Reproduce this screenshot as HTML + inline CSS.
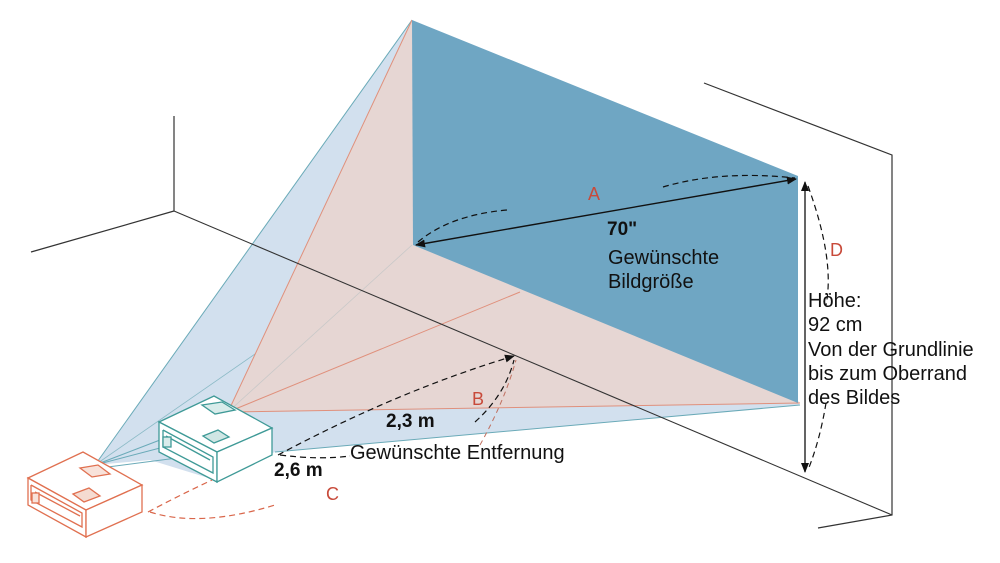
<!DOCTYPE html>
<html><head><meta charset="utf-8"><style>
html,body{margin:0;padding:0;background:#fff;}
svg{display:block;}
text{font-family:"Liberation Sans","DejaVu Sans",sans-serif;}
</style></head><body>
<svg width="1000" height="563" viewBox="0 0 1000 563" xmlns="http://www.w3.org/2000/svg">
<g stroke="#333" stroke-width="1.2" fill="none">
<line x1="174" y1="116" x2="174" y2="211"/>
<line x1="174" y1="211" x2="31" y2="252"/>
<polyline points="704,83 892,155 892,515 818,528"/>
</g>
<polygon points="95,465 412,20 800,405 275,452 215,480 150,460" fill="#d2e0ee" stroke="none"/>
<line x1="95" y1="465" x2="412" y2="20" stroke="#6aaab8" stroke-width="1"/>
<line x1="275" y1="452" x2="800" y2="405" stroke="#6aaab8" stroke-width="1"/>
<line x1="95" y1="465" x2="412" y2="245" stroke="#8bbac6" stroke-width="0.8"/>
<polygon points="228,412 412,20 800,403" fill="#e6d6d3"/>
<line x1="228" y1="412" x2="412" y2="20" stroke="#e0907c" stroke-width="1"/>
<line x1="228" y1="412" x2="800" y2="403" stroke="#e0907c" stroke-width="1"/>
<line x1="228" y1="412" x2="520" y2="292" stroke="#e0907c" stroke-width="1"/>
<line x1="228" y1="412" x2="412" y2="245" stroke="#c8c8c8" stroke-width="0.8"/>
<polygon points="412,20 798,176 798,403 413,245" fill="#6fa6c3"/>
<line x1="174" y1="211" x2="892" y2="515" stroke="#333" stroke-width="1.1"/>
<g stroke="#6aaab8" stroke-width="1">
<line x1="95" y1="465" x2="160" y2="440"/>
<line x1="95" y1="465" x2="160" y2="448"/>
<line x1="100" y1="468" x2="200" y2="455"/>
</g>
<g stroke="#3f9a97" stroke-width="1.3" fill="#fff">
<polygon points="159,422 214,396 272,428 217,452"/>
<polygon points="159,422 217,452 217,482 159,452"/>
<polygon points="217,452 272,428 272,455 217,482"/>
<polygon points="202,405 222,402 235,410 215,414" fill="#d9eceb"/>
<polygon points="203,436 218,430 229,437 214,443" fill="#cfe6e4"/>
<polyline points="163,430 213,457 213,473 163,447 163,430" fill="none"/>
<polyline points="166,436 210,460" fill="none"/>
<rect x="163" y="437" width="8" height="10" fill="#d9eceb"/>
</g>
<g stroke="#e07050" stroke-width="1.3" fill="#fff">
<polygon points="28,478 83,452 142,485 86,510"/>
<polygon points="28,478 86,510 86,537 28,505"/>
<polygon points="86,510 142,485 142,512 86,537"/>
<polygon points="80,468 98,465 110,474 92,477" fill="#f8e2da"/>
<polygon points="73,494 89,488 100,496 84,502" fill="#f5dbd1"/>
<polyline points="31,485 82,513 82,527 31,500 31,485" fill="none"/>
<line x1="35" y1="492" x2="80" y2="516"/>
<rect x="32" y="493" width="7" height="10" fill="#f8e2da"/>
</g>
<g stroke="#d9664a" stroke-width="1.2" fill="none" stroke-dasharray="6,4">
<path d="M148,512 Q180,495 212,480"/>
<path d="M150,512 Q200,528 275,505"/>
</g>
<defs>
<marker id="ah" markerWidth="10" markerHeight="8" refX="9" refY="4" orient="auto" markerUnits="userSpaceOnUse"><path d="M0,0 L10,4 L0,8 Z" fill="#111"/></marker>
<marker id="ahs" markerWidth="10" markerHeight="8" refX="1" refY="4" orient="auto" markerUnits="userSpaceOnUse"><path d="M10,0 L0,4 L10,8 Z" fill="#111"/></marker>
</defs>
<line x1="416" y1="245" x2="796" y2="179" stroke="#111" stroke-width="1.4" marker-start="url(#ahs)" marker-end="url(#ah)"/>
<line x1="805" y1="182" x2="805" y2="472" stroke="#111" stroke-width="1.3" marker-start="url(#ahs)" marker-end="url(#ah)"/>
<g stroke="#111" stroke-width="1.2" fill="none" stroke-dasharray="6,4">
<path d="M418,242 Q450,215 507,210"/>
<path d="M663,187 Q720,170 795,178"/>
<path d="M808,186 Q835,260 826,305"/>
<path d="M826,403 Q820,440 808,470"/>
<path d="M278,455 Q400,390 514,356" marker-end="url(#ah)"/>
<path d="M475,422 Q505,395 514,360"/>
<path d="M280,455 Q320,460 350,456"/>
</g>
<path d="M480,445 Q505,400 516,360" stroke="#c07060" stroke-width="1" fill="none" stroke-dasharray="5,4"/>
<g font-size="18" fill="#c84a3a">
<text x="588" y="200">A</text>
<text x="830" y="256">D</text>
<text x="472" y="405">B</text>
<text x="326" y="500">C</text>
</g>
<g fill="#111" font-size="20">
<text x="607" y="235" font-weight="bold" font-size="19">70"</text>
<text x="608" y="264">Gewünschte</text>
<text x="608" y="288">Bildgröße</text>
<text x="808" y="307">Höhe:</text>
<text x="808" y="331">92 cm</text>
<text x="808" y="356">Von der Grundlinie</text>
<text x="808" y="380">bis zum Oberrand</text>
<text x="808" y="404">des Bildes</text>
<text x="386" y="427" font-weight="bold" font-size="19">2,3 m</text>
<text x="350" y="459">Gewünschte Entfernung</text>
<text x="274" y="476" font-weight="bold" font-size="19">2,6 m</text>
</g>
</svg>
</body></html>
